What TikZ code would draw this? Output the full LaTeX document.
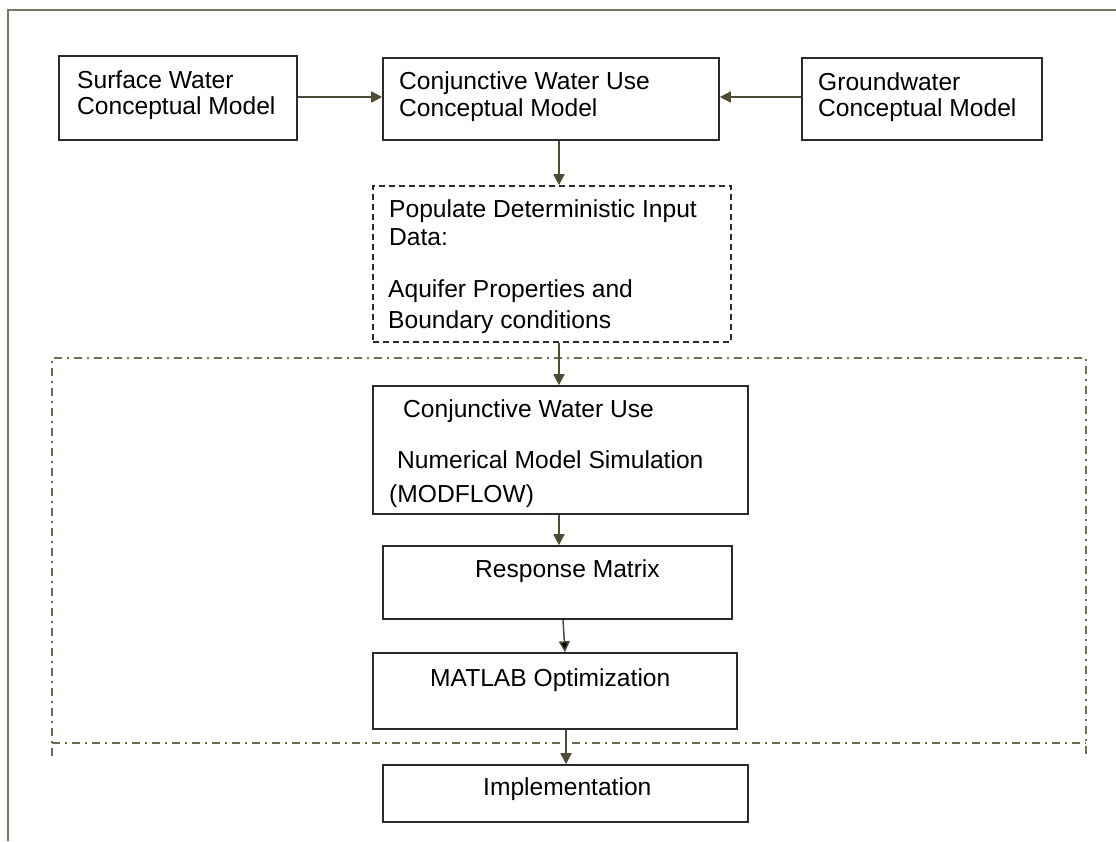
\documentclass[tikz,border=0pt]{standalone}
\usepackage{fontspec}
\setmainfont{Liberation Sans}
\usetikzlibrary{arrows.meta}
\definecolor{framecol}{HTML}{77745F}
\definecolor{linkcol}{HTML}{4F4B35}
\definecolor{boxcol}{HTML}{2B2B2B}
\definecolor{zonecol}{HTML}{6F6A50}
\tikzset{
  box/.style={draw=boxcol, line width=1.6pt, rectangle, inner sep=0pt, fill=white},
  dashbox/.style={box, dash pattern=on 6pt off 4pt},
  txt/.style={anchor=base west, inner sep=0pt, font=\fontsize{24.6}{26}\selectfont, text=black},
  link/.style={draw=linkcol, line width=1.5pt, -{Triangle[length=11pt,width=11pt]}},
  zone/.style={draw=zonecol, line width=1.6pt, dash pattern=on 8pt off 5pt on 2pt off 5pt},
  frameline/.style={draw=framecol, line width=2pt}
}
\begin{document}
\begin{tikzpicture}[x=1pt,y=-1pt]
\useasboundingbox (0,0) rectangle (1116,841);
\fill[white] (0,0) rectangle (1116,841);

% page frame (top and left edges)
\draw[frameline] (1116,10) -- (8,10) -- (8,841);

% region grouping simulation and optimisation
\draw[zone] (52,756) -- (52,358) -- (1086,358) -- (1086,756);
\draw[zone] (52,743) -- (1086,743);

% boxes
\node[box, minimum width=238pt, minimum height=84pt] (sw)   at (178,98) {};
\node[box, minimum width=336pt, minimum height=82pt] (cwu)  at (551,99) {};
\node[box, minimum width=240pt, minimum height=82pt] (gw)   at (922,99) {};
\node[dashbox, minimum width=358pt, minimum height=156pt] (data) at (552,264) {};
\node[box, minimum width=375pt, minimum height=128pt] (num)  at (560.5,450) {};
\node[box, minimum width=349pt, minimum height=73pt]  (resp) at (557.5,582.5) {};
\node[box, minimum width=364pt, minimum height=76pt]  (mat)  at (555,691) {};
\node[box, minimum width=365pt, minimum height=57pt]  (impl) at (565.5,793.5) {};

% box texts
\node[txt] (sw1) at (77,88)  {Surface Water};
\node[txt] (sw2) at (77,114) {Conceptual Model};
\node[txt] (cwu1) at (399,89)  {Conjunctive Water Use};
\node[txt] (cwu2) at (399,116) {Conceptual Model};
\node[txt] (gw1) at (818,90)  {Groundwater};
\node[txt] (gw2) at (818,116) {Conceptual Model};
\node[txt] (data1) at (389,217) {Populate Deterministic Input};
\node[txt] (data2) at (389,245) {Data:};
\node[txt] (data3) at (388,297) {Aquifer Properties and};
\node[txt] (data4) at (388,328) {Boundary conditions};
\node[txt] (num1) at (403,417) {Conjunctive Water Use};
\node[txt] (num2) at (397,468) {Numerical Model Simulation};
\node[txt] (num3) at (389,502) {(MODFLOW)};
\node[txt] (resp1) at (475,577) {Response Matrix};
\node[txt] (mat1) at (430,686) {MATLAB Optimization};
\node[txt] (impl1) at (483,795) {Implementation};

% connectors
\draw[link] (sw.east |- 0,97) -- (cwu.west |- 0,97);
\draw[link] (gw.west |- 0,97) -- (cwu.east |- 0,97);
\draw[link] (cwu.south -| 559,0) -- (data.north -| 559,0);
\draw[link] (data.south -| 559,0) -- (num.north -| 559,0);
\draw[link] (num.south -| 559,0) -- (resp.north -| 559,0);
\draw[link, -{Triangle[length=11pt,width=11pt,fill=black]}] (resp.south -| 563,0) -- (mat.north -| 565,0);
\draw[link] (mat.south -| 566,0) -- (impl.north -| 566,0);
\end{tikzpicture}
\end{document}
